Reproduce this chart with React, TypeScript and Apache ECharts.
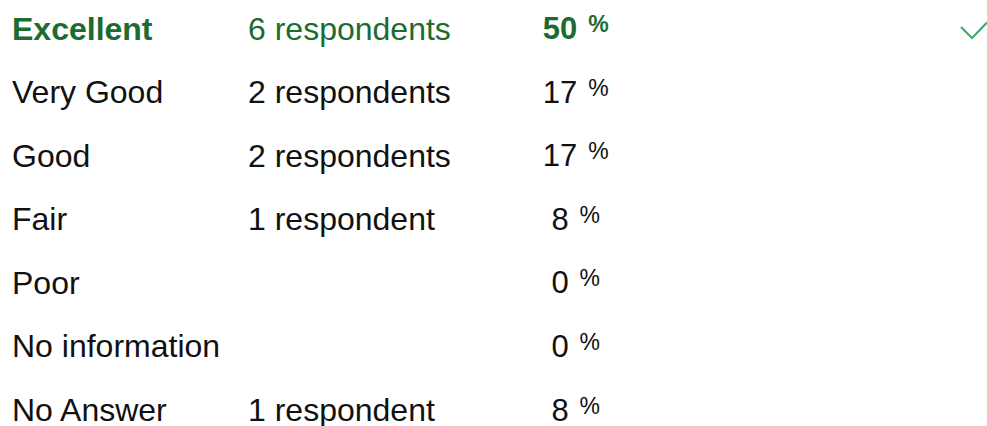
import React, { useEffect, useRef } from "react";
import * as echarts from "echarts";

const categories = ["Excellent", "Very Good", "Good", "Fair", "Poor", "No information", "No Answer"];
const respondents = [6, 2, 2, 1, 0, 0, 1];
const percents = [50, 17, 17, 8, 0, 0, 8];
const highlightIndex = 0;

const FONT = "Liberation Sans";
const GREEN = "#1c6b30";
const CHECK = "#3aa86b";
const BLACK = "#111111";

function respondentText(n: number): string {
  if (n === 0) return "";
  return n === 1 ? `${n} respondent` : `${n} respondents`;
}

export default function App() {
  const ref = useRef<HTMLDivElement>(null);
  useEffect(() => {
    if (!ref.current) return;
    const chart = echarts.init(ref.current, null, { renderer: "svg" });
    const data = categories.map((c, i) => [i, respondents[i], percents[i]]);
    chart.setOption({
      animation: false,
      backgroundColor: "#ffffff",
      grid: { left: 0, right: 0, top: 28.5, bottom: 16 },
      xAxis: { type: "value", show: false, min: 0, max: 1 },
      yAxis: { type: "value", show: false, min: 0, max: categories.length - 1, inverse: true },
      series: [
        {
          type: "custom",
          data,
          renderItem: (params: any, api: any) => {
            const idx = api.value(0);
            const y = api.coord([0, idx])[1];
            const hi = idx === highlightIndex;
            const color = hi ? GREEN : BLACK;
            const weight = hi ? "bold" : "normal";
            const pct = { fontFamily: FONT, fontSize: 23, fontWeight: weight, verticalAlign: "top", lineHeight: 13 };
            const children: any[] = [
              {
                type: "text",
                style: {
                  x: 12, y, text: categories[idx], fill: color,
                  fontFamily: FONT, fontSize: 32, fontWeight: weight, lineHeight: 28,
                  align: "left", verticalAlign: "middle",
                },
              },
              {
                type: "text",
                style: {
                  x: 248, y, text: respondentText(api.value(1)), fill: color,
                  fontFamily: FONT, fontSize: 32, fontWeight: "normal", lineHeight: 28,
                  align: "left", verticalAlign: "middle",
                },
              },
              {
                type: "text",
                style: {
                  x: 560, y, text: `{h|%}{n|${api.value(2)}}{p|%}`, fill: color,
                  fontFamily: FONT, fontSize: 31, fontWeight: weight,
                  align: "center", verticalAlign: "middle",
                  rich: {
                    n: { fontFamily: FONT, fontSize: 31, fontWeight: weight, fill: color, lineHeight: 32 },
                    p: { ...pct, fill: color, padding: [0, 0, 0, 11] },
                    h: { ...pct, fill: "rgba(0,0,0,0)", padding: [0, 11, 0, 0] },
                  },
                },
              },
            ];
            if (hi) {
              children.push({
                type: "polyline",
                shape: { points: [[961, y - 1.5], [972, y + 9.5], [987, y - 6]] },
                style: { stroke: CHECK, lineWidth: 2, fill: "none" },
              });
            }
            return { type: "group", children };
          },
        },
      ],
    });
    return () => chart.dispose();
  }, []);
  return (
    <div
      ref={ref}
      style={{ position: "fixed", left: 0, top: 0, width: 987, height: 426, background: "#fff" }}
    />
  );
}
